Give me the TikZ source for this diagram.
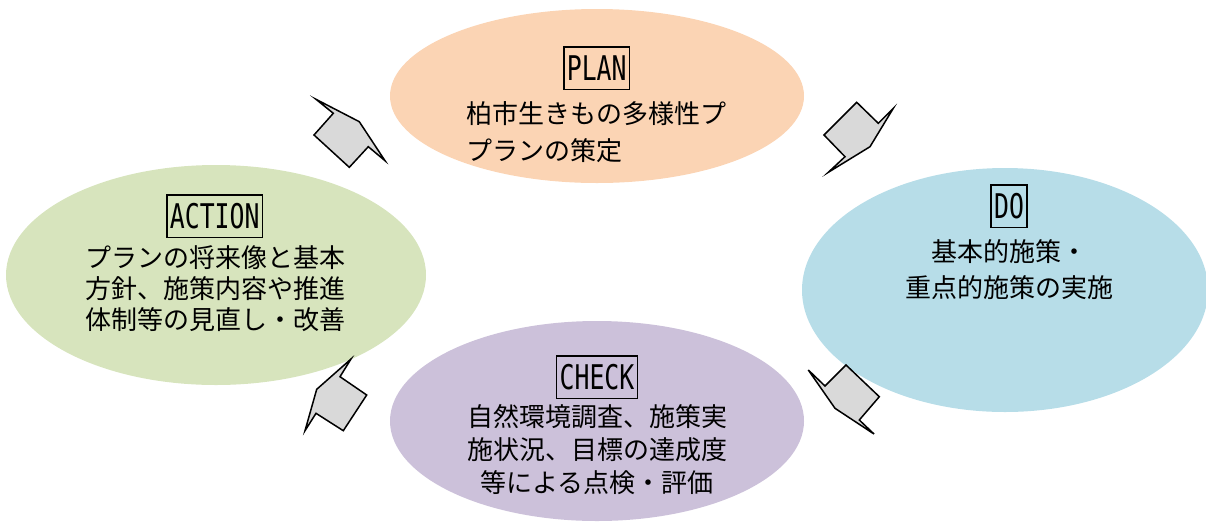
\documentclass[tikz,border=0pt]{standalone}
\usepackage{fontspec}
\usetikzlibrary{shapes.geometric}
\newfontfamily\cjk{Noto Sans CJK JP}
\newfontfamily\lblfont{DejaVu Sans Mono}
\definecolor{planc}{HTML}{FBD4B4}
\definecolor{doc}{HTML}{B7DDE8}
\definecolor{checkc}{HTML}{CCC1DA}
\definecolor{actc}{HTML}{D7E4BD}
\definecolor{arrc}{HTML}{D9D9D9}
\newcommand{\lbltext}[1]{\scalebox{0.73}[1]{\fontsize{34}{34}\lblfont #1}}
\tikzset{
  bubble/.style={ellipse, inner sep=0pt, draw=none},
  lblbox/.style={draw=black, line width=1.5pt, inner xsep=3pt, inner ysep=0pt,
    minimum height=42.5pt, text height=24.5pt, text depth=0pt},
  bodytext/.style={font=\cjk\fontsize{26}{33}\selectfont, text=black, inner sep=0pt},
  bentarrow/.style={fill=arrc, draw=black, line width=1.5pt, line join=miter}
}
\begin{document}
\begin{tikzpicture}[x=1pt,y=-1pt]
\useasboundingbox (0,0) rectangle (1206,523);
% ellipses
\node[bubble, fill=planc, minimum width=414pt, minimum height=174pt] (plan) at (597,96) {};
\node[bubble, fill=doc, minimum width=406pt, minimum height=244pt] (do) at (1005,290) {};
\node[bubble, fill=checkc, minimum width=414pt, minimum height=200pt] (check) at (597,421) {};
\node[bubble, fill=actc, minimum width=420pt, minimum height=220pt] (action) at (216,275) {};
% labels
\node[lblbox] (planlbl) at (596.7,68.3) {\lbltext{PLAN}};
\node[lblbox] (dolbl) at (1009,206) {\lbltext{DO}};
\node[lblbox] (actlbl) at (214.7,216) {\lbltext{ACTION}};
\node[lblbox] (checklbl) at (597,377) {\lbltext{CHECK}};
% texts
\node[bodytext, align=left, font=\cjk\fontsize{26}{37}\selectfont] (plantxt) at (596,132.5)
  {柏市生きもの多様性プ\\プランの策定};
\node[bodytext, align=center, font=\cjk\fontsize{26}{36}\selectfont] (dotxt) at (1009,269.6)
  {基本的施策・\\重点的施策の実施};
\node[bodytext, align=center, font=\cjk\fontsize{26}{31}\selectfont] (acttxt) at (215,288.7)
  {プランの将来像と基本\\方針、施策内容や推進\\体制等の見直し・改善};
\node[bodytext, align=center, font=\cjk\fontsize{26}{33}\selectfont] (checktxt) at (597,450)
  {自然環境調査、施策実\\施状況、目標の達成度\\等による点検・評価};
% bent arrows
\draw[bentarrow] (316,99.3) -- (333.3,113.3) -- (314,135) -- (349.3,167.3) -- (368.3,146.7) -- (385,160.7) -- (359.3,121.7) -- cycle;
\draw[bentarrow] (893.3,108.3) -- (878.3,123.3) -- (856.7,102.3) -- (824,135) -- (845,156.7) -- (828.3,172.3) -- (870,146.7) -- cycle;
\draw[bentarrow] (808.3,370) -- (825,386) -- (846,365) -- (879.3,396.7) -- (859.3,420) -- (874,434) -- (835,408.3) -- cycle;
\draw[bentarrow] (351,359) -- (340,376.7) -- (366.7,395) -- (343.3,430.7) -- (316,413.3) -- (305,430.7) -- (316.7,389.3) -- cycle;
\end{tikzpicture}
\end{document}
